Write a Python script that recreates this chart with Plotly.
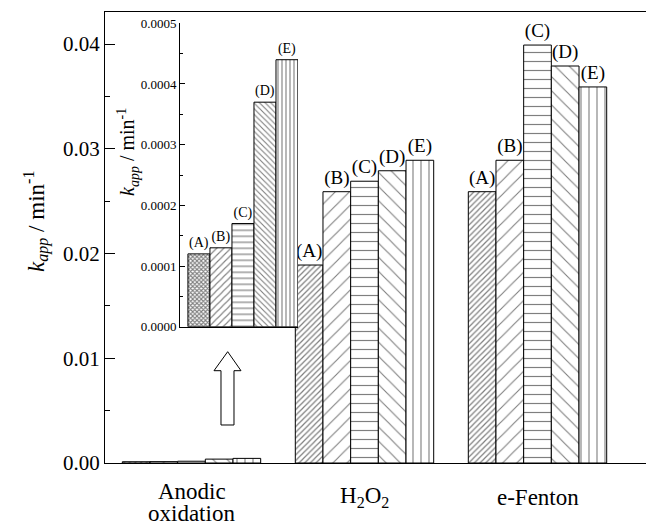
import plotly.graph_objects as go

# ---------------- data ----------------
groups = ["Anodic oxidation", "H2O2", "e-Fenton"]
group_label_lines = [["Anodic", "oxidation"], ["H<sub>2</sub>O<sub>2</sub>"], ["e-Fenton"]]
series_names = ["(A)", "(B)", "(C)", "(D)", "(E)"]
val_A = [0.00012, 0.0189, 0.0259]
val_B = [0.00013, 0.0259, 0.0289]
val_C = [0.00017, 0.0269, 0.0399]
val_D = [0.00037, 0.0279, 0.0379]
val_E = [0.00044, 0.0289, 0.0359]
series_values = [val_A, val_B, val_C, val_D, val_E]
show_label = [False, True, True]   # labels printed above main bars

inset_values = [v[0] for v in series_values]   # anodic oxidation, zoomed
inset_pos = [0, 1, 2, 3, 4]

y_ticks = [0.0, 0.01, 0.02, 0.03, 0.04]
inset_ticks = [0.0, 0.0001, 0.0002, 0.0003, 0.0004, 0.0005]
y_title = "<i>k</i><sub><i>app</i></sub> / min<sup>-1</sup>"

# ---------------- style ----------------
FONT = "Liberation Serif, Times New Roman, serif"
OFF = 8                       # page body margin of the viewer
W, H = 654 - OFF, 525 - OFF
PLOT_L, PLOT_T, PLOT_B = 105, 12, 463   # plot box in screenshot pixels
ML, MT, MR = PLOT_L - OFF, PLOT_T - OFF, 0
MB = H - (PLOT_B - OFF)
PW, PH = W - ML - MR, PLOT_B - PLOT_T

main_patterns = [
    dict(shape="/", size=4, solidity=0.3),
    dict(shape="/", size=10, solidity=0.11),
    dict(shape="-", size=9, solidity=0.13),
    dict(shape="\\", size=10, solidity=0.11),
    dict(shape="|", size=8, solidity=0.14),
]
inset_patterns = [
    dict(shape="x", size=3, solidity=0.6),
    dict(shape="/", size=5, solidity=0.22),
    dict(shape="-", size=6, solidity=0.2),
    dict(shape="\\", size=4, solidity=0.28),
    dict(shape="|", size=4, solidity=0.28),
]


def px_to_paper(x, y):
    """screenshot pixel -> paper fraction"""
    return (x - PLOT_L) / PW, (PLOT_B - y) / PH


fig = go.Figure()

for name, vals, pat in zip(series_names, series_values, main_patterns):
    fig.add_trace(go.Bar(
        x=groups, y=vals, name=name,
        text=[name if s else None for s in show_label],
        textposition="outside", cliponaxis=False, constraintext="none",
        textfont=dict(family=FONT, size=19, color="black"),
        marker=dict(color="white", line=dict(color="black", width=1),
                    pattern=dict(fgcolor="black", bgcolor="white", **pat)),
        showlegend=False, xaxis="x", yaxis="y",
    ))

fig.add_trace(go.Bar(
    x=inset_pos, y=inset_values, width=1,
    text=series_names, textposition="outside", cliponaxis=False,
    constraintext="none",
    textfont=dict(family=FONT, size=14, color="black"),
    marker=dict(color="white", line=dict(color="black", width=1),
                pattern=dict(fgcolor="black", bgcolor="white",
                             shape=[p["shape"] for p in inset_patterns],
                             size=[p["size"] for p in inset_patterns],
                             solidity=[p["solidity"] for p in inset_patterns])),
    showlegend=False, xaxis="x2", yaxis="y2",
))

# inset domain
ix0, iy0 = px_to_paper(180, 326.7)
ix1, iy1 = px_to_paper(298, 23.3)

fig.update_layout(
    width=W, height=H,
    margin=dict(l=ML, r=MR, t=MT, b=MB, autoexpand=False),
    paper_bgcolor="white", plot_bgcolor="white",
    font=dict(family=FONT, color="black"),
    barmode="group", bargap=0.2, bargroupgap=0,
    xaxis=dict(
        range=[-0.5, PW / 173.0 - 0.5], showticklabels=False, ticks="",
        showline=True, mirror=True, linecolor="black", linewidth=1.2,
        showgrid=False, zeroline=False, automargin=False,
    ),
    yaxis=dict(
        range=[0, PH / 10475.0], tickvals=y_ticks, tickformat=".2f",
        ticks="inside", ticklen=10, tickwidth=1, tickcolor="black",
        minor=dict(dtick=0.005, ticks="inside", ticklen=5, tickcolor="black"),
        showline=True, linecolor="black", linewidth=1.2,
        showgrid=False, zeroline=False, automargin=False,
        tickfont=dict(family=FONT, size=21),
    ),
    xaxis2=dict(
        domain=[ix0, ix1], anchor="y2", range=[-0.86, 4.5],
        showticklabels=False, ticks="", showline=True, linecolor="black",
        linewidth=1, showgrid=False, zeroline=False, automargin=False,
    ),
    yaxis2=dict(
        domain=[iy0, iy1], anchor="x2", range=[0, 0.0005], tickvals=inset_ticks,
        tickformat=".4f", ticks="inside", ticklen=5, tickcolor="black",
        minor=dict(dtick=0.00005, ticks="inside", ticklen=3, tickcolor="black"),
        showline=True, linecolor="black", linewidth=1,
        showgrid=False, zeroline=False, automargin=False,
        tickfont=dict(family=FONT, size=13),
    ),
)

# rotated axis titles (main and inset)
for (cx, cy), size in [((36, 222), 23), ((128, 152), 20)]:
    xp, yp = px_to_paper(cx, cy)
    fig.add_annotation(x=xp, y=yp, xref="paper", yref="paper", text=y_title,
                       textangle=-90, showarrow=False, xanchor="center",
                       yanchor="middle",
                       font=dict(family=FONT, size=size, color="black"))

# category labels under the main axis (screenshot pixel rows)
line_mid_px = [[492, 513], [497], [497]]
for g, lines, mids in zip(groups, group_label_lines, line_mid_px):
    for txt, m in zip(lines, mids):
        _, yp = px_to_paper(0, m)
        fig.add_annotation(x=g, xref="x", y=yp, yref="paper", text=txt,
                           showarrow=False, yanchor="middle",
                           font=dict(family=FONT, size=23, color="black"))

# hollow up-arrow pointing to the inset
arrow_px = [(227.7, 351.7), (241, 370.7), (234, 370.7), (234, 425),
            (221, 425), (221, 370.7), (214, 370.7)]
pts = [px_to_paper(x, y) for x, y in arrow_px]
path = "M " + " L ".join(f"{a:.5f},{b:.5f}" for a, b in pts) + " Z"
fig.add_shape(type="path", path=path, xref="paper", yref="paper",
              line=dict(color="black", width=1), fillcolor="white")

fig.write_html("out.html")
